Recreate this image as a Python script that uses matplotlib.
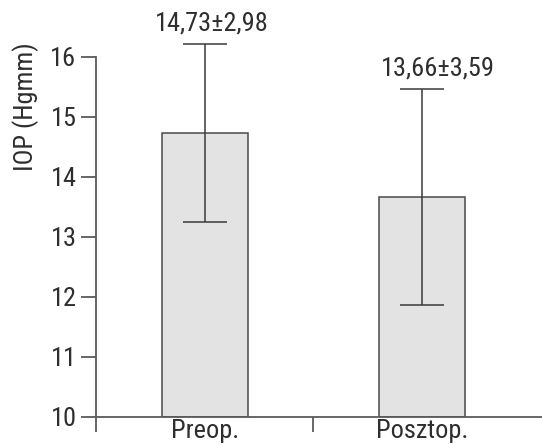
import matplotlib
matplotlib.use("Agg")
import matplotlib.pyplot as plt
from matplotlib import font_manager

categories = ["Preop.", "Posztop."]
means = [14.73, 13.66]
sds = [2.98, 3.59]
err_half = [1.49, 1.795]  # drawn error bars (SD/2)
labels = ["14,73\u00b12,98", "13,66\u00b13,59"]
yticks = [10, 11, 12, 13, 14, 15, 16]

# prefer a condensed sans face if one is installed
chosen = None
stretch = "normal"
names = {f.name for f in font_manager.fontManager.ttflist}
if "Liberation Sans Narrow" in names:
    chosen = "Liberation Sans Narrow"
else:
    for pref in ["Roboto Condensed", "Open Sans Condensed", "Noto Sans Condensed"]:
        if pref in names:
            chosen = pref
            break
    if chosen is None:
        for f in font_manager.fontManager.ttflist:
            if f.name in ("Noto Sans", "Roboto", "Open Sans") and \
               str(f.stretch) in ("condensed", "semi-condensed", "75", "87.5") and \
               f.style == "normal" and f.weight in (400, "normal", "regular"):
                chosen = f.name
                stretch = "condensed" if str(f.stretch) in ("condensed", "75") else "semi-condensed"
                break
cond = chosen is not None
fam = [chosen] if cond else ["Liberation Sans"]
fam = fam + ["DejaVu Sans"]
plt.rcParams["font.family"] = fam
plt.rcParams["font.stretch"] = stretch
fs = 19 if cond else 16.5

txt = "#2e2e2e"
axc = "#5a5a5a"

fig = plt.figure(figsize=(5.42, 4.45), dpi=100)
ax = fig.add_axes([96 / 542, 28.3 / 445, 446 / 542, 416.7 / 445])
ax.set_facecolor("white")

x = list(range(len(categories)))
base = 10
ax.bar(x, [m - base for m in means], bottom=base, width=0.395,
       color="#e3e3e3", edgecolor="#4a4a4a", linewidth=1.1, zorder=2)
ax.errorbar(x, means, yerr=err_half, fmt="none", ecolor="#3a3a3a",
            elinewidth=1.1, capsize=15.8, capthick=1.1, zorder=3)

offs = [(7, 8), (16, 9)]
for xi, m, e, lab, o in zip(x, means, err_half, labels, offs):
    ax.annotate(lab, (xi, m + e), xytext=o, textcoords="offset pixels",
                ha="center", va="bottom", fontsize=fs, color=txt)

ax.set_xlim(-0.5, 1.5506)
ax.set_ylim(10, 16.945)

for s in ["top", "right"]:
    ax.spines[s].set_visible(False)
ax.spines["left"].set_bounds(10, 16)
for s in ["left", "bottom"]:
    ax.spines[s].set_color(axc)
    ax.spines[s].set_linewidth(1.3)

ax.set_yticks(yticks)
ax.set_yticklabels([str(t) for t in yticks])
ax.tick_params(axis="y", length=11, width=1.3, color=axc, pad=3,
               labelsize=fs, labelcolor=txt)

ax.set_xticks(x)
ax.set_xticklabels(categories)
ax.set_xticks([-0.5, 0.5], minor=True)
ax.tick_params(axis="x", which="major", length=0, pad=1.5,
               labelsize=fs, labelcolor=txt)
ax.tick_params(axis="x", which="minor", length=11, width=1.3, color=axc,
               direction="out")

ax.set_ylabel("IOP (Hgmm)", fontsize=fs, color=txt)
ax.yaxis.label.set_verticalalignment("center")
ax.yaxis.set_label_coords((26 - 96) / 446, 0.743)

fig.savefig("out.png", dpi=100)
